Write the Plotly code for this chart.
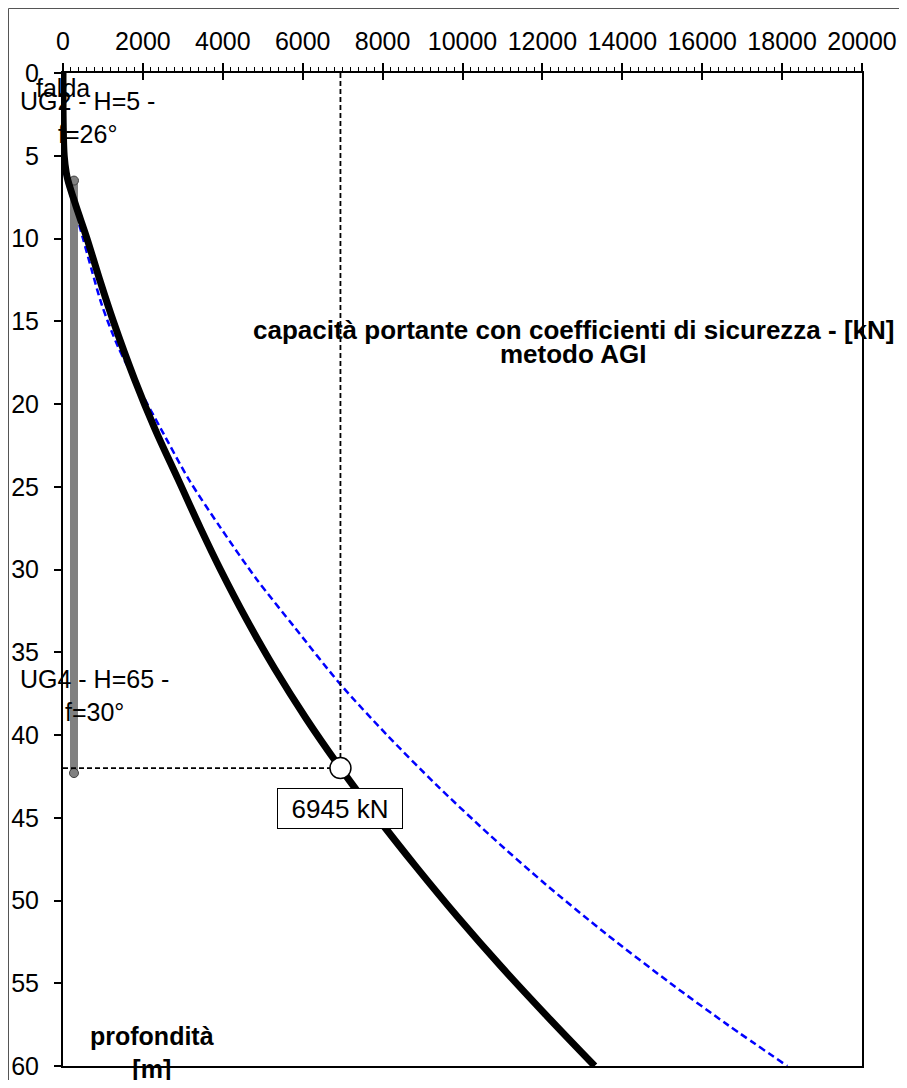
import plotly.graph_objects as go

# ---- data ----
depth_main = [0, 3, 5, 6, 6.5, 8, 10, 12.5, 15, 18.5, 21.5, 24.6, 27.5, 30, 33, 36, 39, 42, 45, 48, 51, 54, 57, 60]
cap_main = [0, 5, 30, 80, 125, 320, 600, 920, 1260, 1790, 2300, 2890, 3440, 3940, 4590, 5300, 6085, 6945, 7870, 8850, 9880, 10970, 12120, 13310]

depth_blue = [0, 5, 6.2, 8, 10, 12, 14, 16.5, 19, 21.5, 24.6, 27.5, 30.6, 33.5, 36.9, 40, 43, 46, 49, 52, 55, 57.5, 60]
cap_blue = [0, 10, 50, 270, 500, 730, 970, 1370, 1890, 2450, 3160, 3950, 4850, 5800, 6930, 8110, 9340, 10660, 12070, 13585, 15205, 16630, 18130]

pile_x = [275, 275]
pile_depth = [6.5, 42.3]

design_depth = 42
design_cap = 6945

vline_x = [design_cap, design_cap]
vline_y = [0, design_depth]
hline_x = [0, design_cap]
hline_y = [design_depth, design_depth]

xticks = list(range(0, 20001, 2000))
xticklabels = [str(v) for v in xticks]
yticks = list(range(0, 61, 5))

FONT = "Arial, Liberation Sans, sans-serif"

# page body has an 8px margin; figure is sized to fit inside the window
W, H = 891, 1072
ML, MT = 55, 65
PW, PH = 799, 993
MR = W - ML - PW
MB = H - MT - PH

fig = go.Figure()

fig.add_trace(go.Scatter(x=cap_blue, y=depth_blue, mode="lines",
                         line=dict(color="#0000FF", width=2.5, dash="7px,4px", shape="spline", smoothing=0.8),
                         hoverinfo="skip", showlegend=False))
fig.add_trace(go.Scatter(x=pile_x, y=pile_depth, mode="lines+markers",
                         line=dict(color="#808080", width=8),
                         marker=dict(size=9, color="#808080", line=dict(color="#404040", width=1)),
                         hoverinfo="skip", showlegend=False))
fig.add_trace(go.Scatter(x=cap_main, y=depth_main, mode="lines",
                         line=dict(color="black", width=7, shape="spline", smoothing=1.0),
                         hoverinfo="skip", showlegend=False))
fig.add_trace(go.Scatter(x=vline_x, y=vline_y, mode="lines",
                         line=dict(color="black", width=1.8, dash="5px,3px"),
                         hoverinfo="skip", showlegend=False))
fig.add_trace(go.Scatter(x=hline_x, y=hline_y, mode="lines",
                         line=dict(color="black", width=1.8, dash="5px,3px"),
                         hoverinfo="skip", showlegend=False))
fig.add_trace(go.Scatter(x=[design_cap], y=[design_depth], mode="markers",
                         marker=dict(size=21, color="white", line=dict(color="black", width=1.5)),
                         hoverinfo="skip", showlegend=False))
# helper trace for inner part of crossing ticks
fig.add_trace(go.Scatter(x=[0], y=[0], xaxis="x2", mode="markers",
                         marker=dict(opacity=0), hoverinfo="skip", showlegend=False))

fig.update_layout(
    width=W, height=H,
    margin=dict(l=ML, r=MR, t=MT, b=MB),
    paper_bgcolor="white", plot_bgcolor="white",
    font=dict(family=FONT, size=25, color="black"),
    xaxis=dict(side="top", range=[0, 20000], tickvals=xticks, ticktext=xticklabels,
               ticks="outside", ticklen=8, tickwidth=1.5, tickcolor="black",
               minor=dict(dtick=200, ticks="outside", ticklen=4, tickcolor="black", tickwidth=1, showgrid=False),
               showgrid=False, zeroline=False, automargin=False,
               showline=True, linecolor="black", linewidth=2, mirror=True,
               tickfont=dict(size=25), ticklabelstandoff=3),
    xaxis2=dict(overlaying="x", side="top", range=[0, 20000], tickvals=xticks,
                ticks="inside", ticklen=7, tickwidth=1.5, tickcolor="black", automargin=False,
                showticklabels=False, showgrid=False, zeroline=False, showline=False),
    yaxis=dict(range=[60, 0], tickvals=yticks,
               ticks="outside", ticklen=7, tickwidth=1.5, tickcolor="black",
               showgrid=False, zeroline=False, automargin=False,
               showline=True, linecolor="black", linewidth=2, mirror=True,
               tickfont=dict(size=25), ticklabelstandoff=10),
)

ann = []
ann.append(dict(x=625, y=2.66, text="UG2 - H=5 -<br>f=26°", showarrow=False,
                font=dict(size=25), xanchor="center", yanchor="middle"))
ann.append(dict(x=0, y=0.9, text="falda", showarrow=False,
                font=dict(size=25), xanchor="center", yanchor="middle"))
ann.append(dict(x=800, y=37.6, text="UG4 - H=65 -<br>f=30°", showarrow=False,
                font=dict(size=25), xanchor="center", yanchor="middle"))
ann.append(dict(x=2228, y=59.2, text="<b>profondità<br>[m]</b>", showarrow=False,
                font=dict(size=25), xanchor="center", yanchor="middle"))
ann.append(dict(x=12766, y=15.5, text="<b>capacità portante con coefficienti di sicurezza - [kN]</b>",
                showarrow=False, font=dict(size=26), xanchor="center", yanchor="middle"))
ann.append(dict(x=12766, y=16.95, text="<b>metodo AGI</b>",
                showarrow=False, font=dict(size=26), xanchor="center", yanchor="middle"))
ann.append(dict(x=design_cap, y=44.44, text=f"{design_cap} kN", showarrow=False,
                font=dict(size=26), xanchor="center", yanchor="middle",
                bgcolor="white", bordercolor="black", borderwidth=1, borderpad=4,
                width=116, height=31))
fig.update_layout(annotations=ann)

# outer frame (top and left edges of the figure)
fig.add_shape(type="line", xref="paper", yref="paper",
              x0=(0.5 - ML) / PW, x1=(W - ML) / PW, y0=(MT + PH - 0.5) / PH, y1=(MT + PH - 0.5) / PH,
              line=dict(color="#555555", width=1))
fig.add_shape(type="line", xref="paper", yref="paper",
              x0=(0.5 - ML) / PW, x1=(0.5 - ML) / PW, y0=(MT + PH - 0.5) / PH, y1=(MT + PH - H) / PH,
              line=dict(color="#555555", width=1))

fig.write_html("out.html")
